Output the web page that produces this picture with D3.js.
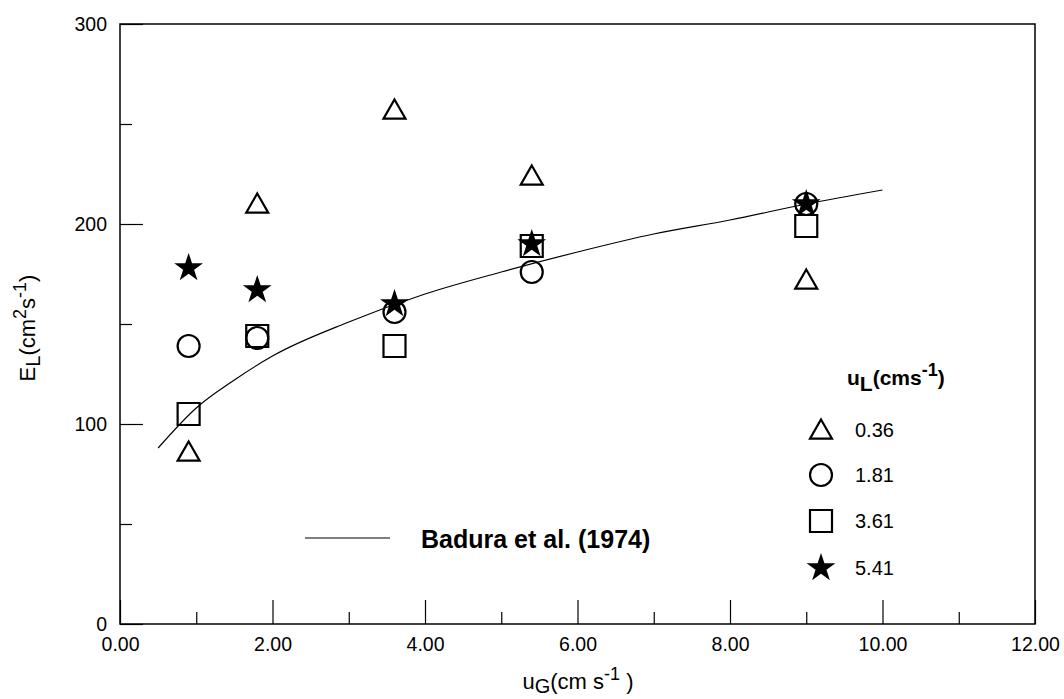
<!DOCTYPE html>
<html><head><meta charset="utf-8">
<script src="https://cdn.jsdelivr.net/npm/d3@7"></script>
<style>body{margin:0;background:#fff;} svg{display:block;font-family:"Liberation Sans",Arial,sans-serif;}</style>
</head><body><svg id="c" width="1064" height="699"></svg>
<script>
const xTicks = [0, 2, 4, 6, 8, 10, 12];
const xMinor = [1, 3, 5, 7, 9, 11];
const yTicks = [0, 100, 200, 300];
const yMinor = [50, 150, 250];
const uG = [0.9, 1.8, 3.6, 5.4, 9.0];
const sTri = [86, 210, 257, 224, 172];      // uL = 0.36
const sCirc = [139, 143, 156, 176, 210];    // uL = 1.81
const sSq = [105, 144, 139, 189, 199];      // uL = 3.61
const sStar = [178, 167, 160, 190, 210];    // uL = 5.41
const legendLabels = ["0.36", "1.81", "3.61", "5.41"];
const curveX = [0.5, 1, 1.5, 2, 3, 4, 5, 6, 7, 8, 9, 10];
const curveY = [88, 108, 122, 134, 151, 165, 176, 186, 195, 202, 210, 217];

const svg = d3.select("#c");
const L = 120, R = 1035, T = 24, B = 624;
const x = d3.scaleLinear().domain([0, 12]).range([L, R]);
const y = d3.scaleLinear().domain([0, 300]).range([B, T]);
const FF = "Liberation Sans, Arial, sans-serif";

// frame
svg.append("rect").attr("x", L).attr("y", T).attr("width", R - L).attr("height", B - T)
  .attr("fill", "none").attr("stroke", "#000").attr("stroke-width", 1.5);

// x axis
const gx = svg.append("g").attr("transform", `translate(0,${B})`)
  .call(d3.axisBottom(x).tickValues(xTicks).tickSize(-24).tickPadding(13).tickFormat(d3.format(".2f")));
gx.select(".domain").remove();
gx.selectAll("text").attr("font-size", 19.5).attr("fill", "#000").attr("font-family", FF);
gx.selectAll("line").attr("stroke", "#000").attr("stroke-width", 1.2);
const gxm = svg.append("g").attr("transform", `translate(0,${B})`)
  .call(d3.axisBottom(x).tickValues(xMinor).tickSize(-12).tickFormat(""));
gxm.select(".domain").remove();
gxm.selectAll("line").attr("stroke", "#000").attr("stroke-width", 1.2);

// y axis
const gy = svg.append("g").attr("transform", `translate(${L},0)`)
  .call(d3.axisLeft(y).tickValues(yTicks).tickSize(-23).tickPadding(13).tickFormat(d3.format("d")));
gy.select(".domain").remove();
gy.selectAll("text").attr("font-size", 19.5).attr("fill", "#000").attr("font-family", FF);
gy.selectAll("line").attr("stroke", "#000").attr("stroke-width", 1.2);
const gym = svg.append("g").attr("transform", `translate(${L},0)`)
  .call(d3.axisLeft(y).tickValues(yMinor).tickSize(-12).tickFormat(""));
gym.select(".domain").remove();
gym.selectAll("line").attr("stroke", "#000").attr("stroke-width", 1.2);

// axis titles
const xt = svg.append("text").attr("x", 578).attr("y", 689).attr("text-anchor", "middle")
  .attr("font-size", 22).attr("fill", "#000");
xt.append("tspan").text("u");
xt.append("tspan").attr("font-size", 20).attr("dy", 4).text("G");
xt.append("tspan").attr("dy", -4).text("(cm s");
xt.append("tspan").attr("font-size", 18).attr("dy", -9).text("-1");
xt.append("tspan").attr("dy", 9).text(" )");

const yt = svg.append("text").attr("transform", "translate(35,328) rotate(-90)").attr("text-anchor", "middle")
  .attr("font-size", 22).attr("fill", "#000");
yt.append("tspan").text("E");
yt.append("tspan").attr("font-size", 20).attr("dy", 5).text("L");
yt.append("tspan").attr("dy", -5).text("(cm");
yt.append("tspan").attr("font-size", 18).attr("dy", -9).text("2");
yt.append("tspan").attr("dy", 9).text("s");
yt.append("tspan").attr("font-size", 18).attr("dy", -9).text("-1");
yt.append("tspan").attr("dy", 9).text(")");

// curve
const line = d3.line().x(d => x(d[0])).y(d => y(d[1])).curve(d3.curveMonotoneX);
svg.append("path").datum(curveX.map((v, i) => [v, curveY[i]])).attr("d", line)
  .attr("fill", "none").attr("stroke", "#000").attr("stroke-width", 1.2);

// markers
function triPath(s) { const h = s * 0.87; return `M0,${-h*0.55}L${s/2},${h*0.45}L${-s/2},${h*0.45}Z`; }
const triangle = triPath(22);
const circle = d3.symbol().type(d3.symbolCircle).size(Math.PI * 11 * 11)();
const square = "M-11,-11H11V11H-11Z";
const star = d3.symbol().type(d3.symbolStar).size(150)();
const seriesDefs = [
  {vals: sTri, path: triangle, fill: "none"},
  {vals: sCirc, path: circle, fill: "none"},
  {vals: sSq, path: square, fill: "none"},
  {vals: sStar, path: star, fill: "#000"}
];
seriesDefs.forEach(s => {
  svg.append("g").selectAll("path").data(s.vals).join("path")
    .attr("transform", (d, i) => `translate(${x(uG[i])},${y(d)})`)
    .attr("d", s.path).attr("fill", s.fill).attr("stroke", "#000").attr("stroke-width", 2.2);
});

// legend
const lt = svg.append("text").attr("x", 847).attr("y", 385).attr("font-size", 21).attr("font-weight", "bold").attr("fill", "#000");
lt.append("tspan").text("u");
lt.append("tspan").attr("dy", 6).text("L");
lt.append("tspan").attr("dy", -6).text("(cms");
lt.append("tspan").attr("font-size", 18).attr("dy", -9).text("-1");
lt.append("tspan").attr("dy", 9).text(")");
const legY = [430, 475, 521, 568];
seriesDefs.forEach((s, i) => {
  svg.append("path").attr("transform", `translate(821,${legY[i]})`).attr("d", s.path)
    .attr("fill", s.fill).attr("stroke", "#000").attr("stroke-width", 2.2);
  svg.append("text").attr("x", 855).attr("y", legY[i] + 7).attr("font-size", 20).attr("fill", "#000").text(legendLabels[i]);
});
svg.append("line").attr("x1", 305).attr("x2", 390).attr("y1", 538).attr("y2", 538).attr("stroke", "#000").attr("stroke-width", 1.2);
svg.append("text").attr("x", 421).attr("y", 548).attr("font-size", 25).attr("font-weight", "bold").attr("fill", "#000").text("Badura et al. (1974)");
</script></body></html>
